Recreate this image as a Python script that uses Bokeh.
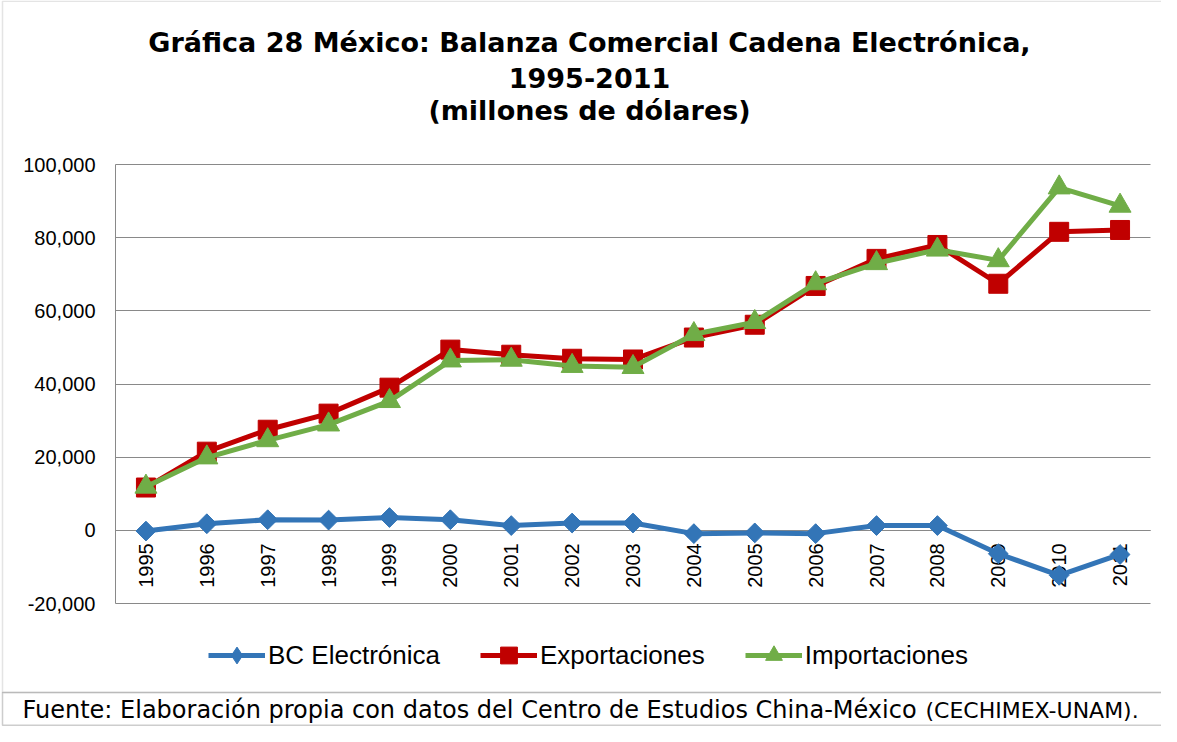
import math
from bokeh.plotting import figure
from bokeh.models import (ColumnDataSource, Range1d, NumeralTickFormatter,
                          FixedTicker, Legend, LegendItem, Label, BoxAnnotation)
from bokeh.embed import file_html
from bokeh.resources import INLINE

# ---------------- data ----------------
years = [str(y) for y in range(1995, 2012)]
bc_electronica = [-200, 1800, 2900, 2800, 3500, 2900, 1300, 2000, 2000,
                  -900, -700, -900, 1300, 1300, -6400, -12300, -6600]
exportaciones = [11700, 21500, 27500, 31900, 39000, 49400, 48000, 46900, 46700,
                 52700, 56200, 66800, 74200, 78000, 67400, 81600, 82100]
importaciones = [11900, 19900, 24600, 28900, 35300, 46400, 46600, 44900, 44600,
                 53600, 56900, 67500, 73000, 76700, 73800, 93700, 88700]
y_ticks = [-20000, 0, 20000, 40000, 60000, 80000, 100000]

series_names = ["BC Electrónica", "Exportaciones", "Importaciones"]
title_lines = ["Gráfica 28 México: Balanza Comercial Cadena Electrónica,",
               "1995-2011",
               "(millones de dólares)"]
source_text = "Fuente: Elaboración propia con datos del Centro de Estudios China-México"
source_org = "(CECHIMEX-UNAM)."

# ---------------- layout (canvas px) ----------------
W, H = 1161, 726
FL, FR, FT, FB = 115, 1150, 164, 603   # plot-area edges
Y_MIN, Y_MAX = -20000, 100000
FONT = "Liberation Sans"
FONT_WIDE = "DejaVu Sans"
GRAY = "#898989"
BLUE, RED, GREEN = "#3375B7", "#C00000", "#70AD47"

n = len(years)
xpos = list(range(n))
step = (FR - FL) / n
x_start = -0.5 - FL / step
x_end = -0.5 + (W - FL) / step
upp = (Y_MAX - Y_MIN) / (FB - FT)
y_start = Y_MIN - (H - FB) * upp
y_end = Y_MAX + FT * upp


def sy(Y):
    return H - Y


src = ColumnDataSource(dict(x=xpos, bc=bc_electronica,
                            exp=exportaciones, imp=importaciones))

p = figure(width=W, height=H,
           x_range=Range1d(x_start, x_end), y_range=Range1d(y_start, y_end),
           output_backend="svg", toolbar_location=None,
           min_border=0, min_border_left=0, min_border_right=0,
           min_border_top=0, min_border_bottom=0)
p.title.visible = False
p.outline_line_color = None
p.background_fill_color = "white"
p.border_fill_color = "white"
p.xgrid.visible = False
p.ygrid.visible = False

# y axis (its inward ticks form the horizontal gridlines)
ya = p.yaxis[0]
ya.fixed_location = -0.5
ya.bounds = (Y_MIN, Y_MAX)
ya.ticker = FixedTicker(ticks=y_ticks)
ya.formatter = NumeralTickFormatter(format="0,0")
ya.major_label_text_font = FONT
ya.major_label_text_font_size = "20px"
ya.major_label_text_color = "black"
ya.major_tick_in = FR - FL
ya.major_tick_out = 0
ya.major_tick_line_color = GRAY
ya.minor_tick_line_color = None
ya.axis_line_color = GRAY
ya.major_label_standoff = 20
ya.level = "underlay"

# x axis crossing at zero
xa = p.xaxis[0]
xa.fixed_location = 0
xa.bounds = (-0.5, n - 0.5)
xa.ticker = FixedTicker(ticks=xpos)
xa.major_label_overrides = {i: y for i, y in zip(xpos, years)}
xa.major_label_orientation = math.pi / 2
xa.major_label_text_font = FONT
xa.major_label_text_font_size = "20px"
xa.major_label_text_color = "black"
xa.major_tick_line_color = None
xa.minor_tick_line_color = None
xa.axis_line_color = GRAY
xa.major_label_standoff = 7
xa.level = "underlay"

# series
l_bc = p.line(x="x", y="bc", source=src, line_color=BLUE, line_width=5)
k_bc = p.scatter(x="x", y="bc", source=src, marker="diamond", size=18,
                 fill_color=BLUE, line_color=BLUE)
m_bc = p.scatter(x="x", y="bc", source=src, marker="square", size=14,
                 angle=math.pi / 4, fill_color=BLUE, line_color=BLUE)
l_ex = p.line(x="x", y="exp", source=src, line_color=RED, line_width=5)
m_ex = p.scatter(x="x", y="exp", source=src, marker="square", size=19,
                 fill_color=RED, line_color=RED)
l_im = p.line(x="x", y="imp", source=src, line_color=GREEN, line_width=5)
m_im = p.scatter(x="x", y="imp", source=src, marker="triangle", size=22,
                 fill_color=GREEN, line_color=GREEN)

legend = Legend(items=[LegendItem(label=series_names[0], renderers=[l_bc, k_bc]),
                       LegendItem(label=series_names[1], renderers=[l_ex, m_ex]),
                       LegendItem(label=series_names[2], renderers=[l_im, m_im])],
                orientation="horizontal", location=(208, sy(676)),
                glyph_width=57, glyph_height=42, label_standoff=3, spacing=40,
                padding=0, margin=0, border_line_color=None,
                background_fill_alpha=0,
                label_text_font=FONT, label_text_font_size="26px",
                label_text_color="black")
p.add_layout(legend)

# borders
box_units = dict(left_units="screen", right_units="screen",
                 top_units="screen", bottom_units="screen")
p.add_layout(BoxAnnotation(left=2, right=W + 20, top=sy(0.8), bottom=sy(692),
                           fill_alpha=0, line_color="#a6a6a6", line_width=1.5,
                           **box_units))
p.add_layout(BoxAnnotation(left=2, right=W + 20, top=sy(692), bottom=sy(724.8),
                           fill_alpha=0, line_color="#5a5a5a", line_width=1.5,
                           **box_units))

# title (anchor y compensates for how the label places its baseline)
for txt, anchor in zip(title_lines, [42, 77, 110]):
    p.add_layout(Label(x=589, y=sy(anchor), x_units="screen", y_units="screen",
                       text=txt, text_align="center", text_baseline="alphabetic",
                       text_font=FONT_WIDE, text_font_style="bold",
                       text_font_size="27px", text_color="black"))

# footer
p.add_layout(Label(x=22, y=sy(709), x_units="screen", y_units="screen",
                   text=source_text, text_align="left", text_baseline="alphabetic",
                   text_font=FONT_WIDE, text_font_size="24px", text_color="black"))
p.add_layout(Label(x=925, y=sy(710), x_units="screen", y_units="screen",
                   text=source_org, text_align="left", text_baseline="alphabetic",
                   text_font=FONT_WIDE, text_font_size="22px", text_color="black"))

open("out.html", "w").write(file_html(p, INLINE))
